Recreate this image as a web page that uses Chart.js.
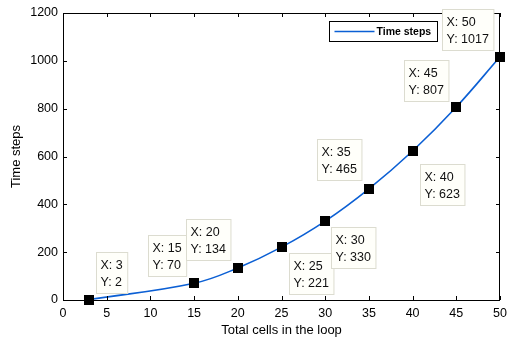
<!DOCTYPE html>
<html>
<head>
<meta charset="utf-8">
<script src="https://cdn.jsdelivr.net/npm/chart.js@4/dist/chart.umd.min.js"></script>
<style>
  html, body { margin: 0; padding: 0; background: #fff; }
  #wrap { width: 508px; height: 341px; }
</style>
</head>
<body>
<div id="wrap"><canvas id="loopChart"></canvas></div>
<script>
const cells = [3, 15, 20, 25, 30, 35, 40, 45, 50];
const timeSteps = [2, 70, 134, 221, 330, 465, 623, 807, 1017];
const xTicks = [0, 5, 10, 15, 20, 25, 30, 35, 40, 45, 50];
const yTicks = [0, 200, 400, 600, 800, 1000, 1200];
const seriesName = 'Time steps';

// where each datatip box sits relative to its marker (px)
const tipOffsets = [[7, -48], [-46, -48], [-52, -49], [7, 6], [6, 6], [-52, -50], [7, 13], [-52, -47], [-58, -48]];

const FONT = 'Arial, "Liberation Sans", sans-serif';

const boxPlugin = {
  id: 'matlabBox',
  afterDatasetsDraw(chart) {
    const ctx = chart.ctx;
    const a = chart.chartArea;
    const xs = chart.scales.x, ys = chart.scales.y;
    ctx.save();
    ctx.strokeStyle = '#000';
    ctx.lineWidth = 1;
    ctx.strokeRect(Math.round(a.left) + 0.5, Math.round(a.top) + 0.5, Math.round(a.right - a.left) - 1, Math.round(a.bottom - a.top));
    // inward tick marks on all four sides
    ctx.beginPath();
    xTicks.forEach(v => {
      const px = Math.round(xs.getPixelForValue(v)) + 0.5;
      ctx.moveTo(px, a.bottom); ctx.lineTo(px, a.bottom - 4);
      ctx.moveTo(px, a.top); ctx.lineTo(px, a.top + 4);
    });
    yTicks.forEach(v => {
      const py = Math.round(ys.getPixelForValue(v)) + 0.5;
      ctx.moveTo(a.left, py); ctx.lineTo(a.left + 4, py);
      ctx.moveTo(a.right, py); ctx.lineTo(a.right - 4, py);
    });
    ctx.stroke();

    // datatips
    ctx.font = '12.5px ' + FONT;
    ctx.textBaseline = 'middle';
    cells.forEach((c, i) => {
      const px = xs.getPixelForValue(c);
      const py = ys.getPixelForValue(timeSteps[i]);
      const l1 = 'X: ' + c, l2 = 'Y: ' + timeSteps[i];
      const w = Math.max(ctx.measureText(l1).width, ctx.measureText(l2).width) + 9;
      const bx = Math.round(px + tipOffsets[i][0]) + 0.5;
      const by = Math.round(py + tipOffsets[i][1]) + 0.5;
      ctx.fillStyle = '#fffffa';
      ctx.fillRect(bx, by, w, 41);
      ctx.strokeStyle = '#dcdcd0';
      ctx.strokeRect(bx, by, w, 41);
      ctx.fillStyle = '#111';
      ctx.fillText(l1, bx + 4, by + 13);
      ctx.fillText(l2, bx + 4, by + 30);
    });

    // legend
    const lx = Math.round(a.right - 171) + 0.5, ly = Math.round(a.top + 8) + 0.5;
    ctx.fillStyle = '#fff';
    ctx.fillRect(lx, ly, 108, 20);
    ctx.strokeStyle = '#000';
    ctx.strokeRect(lx, ly, 108, 20);
    ctx.strokeStyle = chart.data.datasets[0].borderColor;
    ctx.lineWidth = 1.5;
    ctx.beginPath();
    ctx.moveTo(lx + 5, ly + 10); ctx.lineTo(lx + 45, ly + 10);
    ctx.stroke();
    ctx.fillStyle = '#000';
    ctx.font = 'bold 10.5px ' + FONT;
    ctx.fillText(seriesName, lx + 47, ly + 10.5);

    // markers on top
    ctx.fillStyle = '#000';
    cells.forEach((c, i) => {
      const px = xs.getPixelForValue(c);
      const py = ys.getPixelForValue(timeSteps[i]);
      ctx.fillRect(Math.round(px) - 5, Math.round(py) - 5, 10, 10);
    });
    ctx.restore();
  }
};

new Chart(document.getElementById('loopChart'), {
  type: 'line',
  data: {
    datasets: [{
      label: seriesName,
      data: cells.map((c, i) => ({ x: c, y: timeSteps[i] })),
      borderColor: '#0b5fd4',
      borderWidth: 1.6,
      tension: 0.4,
      pointRadius: 0,
      fill: false
    }]
  },
  options: {
    responsive: true,
    maintainAspectRatio: false,
    animation: false,
    events: [],
    layout: { padding: { left: 0, right: 8, top: 13, bottom: 0 } },
    plugins: { legend: { display: false }, tooltip: { enabled: false } },
    scales: {
      x: {
        type: 'linear',
        min: 0, max: 50,
        afterFit: s => { s.height = 41; s.paddingLeft = 0; s.paddingRight = 0; },
        afterBuildTicks: s => { s.ticks = xTicks.map(v => ({ value: v })); },
        grid: { display: false, drawTicks: false },
        border: { display: false },
        ticks: { color: '#000', font: { family: FONT, size: 12.5 }, padding: 6, maxRotation: 0, callback: v => String(v) },
        title: { display: true, text: 'Total cells in the loop', color: '#000', font: { family: FONT, size: 13 }, padding: { top: 0, bottom: 3 } }
      },
      y: {
        min: 0, max: 1200,
        afterFit: s => { s.width = 63; s.paddingTop = 0; s.paddingBottom = 0; },
        afterBuildTicks: s => { s.ticks = yTicks.map(v => ({ value: v })); },
        grid: { display: false, drawTicks: false },
        border: { display: false },
        ticks: { color: '#000', font: { family: FONT, size: 12.5 }, padding: 5, callback: v => String(v) },
        title: { display: true, text: 'Time steps', color: '#000', font: { family: FONT, size: 13 }, padding: { top: 9, bottom: 0 } }
      }
    }
  },
  plugins: [boxPlugin]
});
</script>
</body>
</html>
